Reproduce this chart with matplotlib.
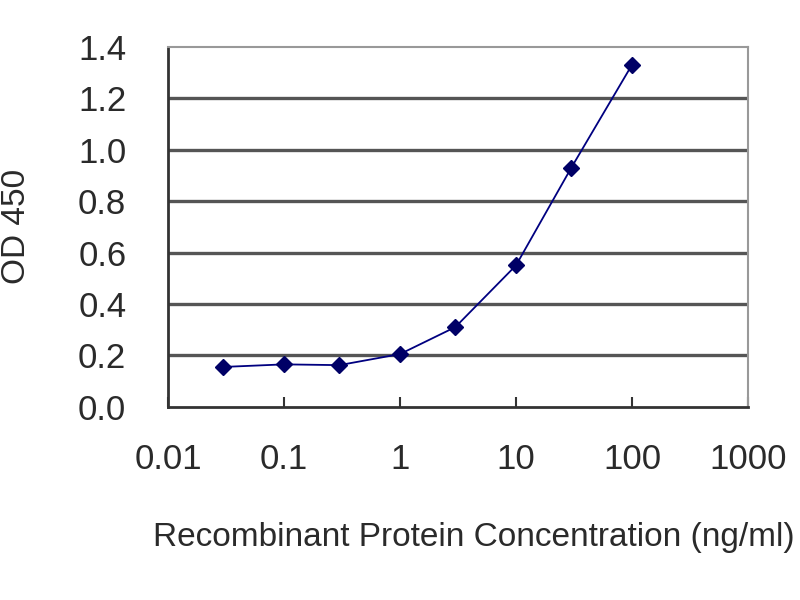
import matplotlib
matplotlib.use("Agg")
import matplotlib.pyplot as plt

# === data ===
conc = [0.03, 0.1, 0.3, 1, 3, 10, 30, 100]
od450 = [0.155, 0.165, 0.162, 0.205, 0.31, 0.55, 0.93, 1.33]
x_ticks = [0.01, 0.1, 1, 10, 100, 1000]
x_tick_labels = ["0.01", "0.1", "1", "10", "100", "1000"]
y_ticks = [0.0, 0.2, 0.4, 0.6, 0.8, 1.0, 1.2, 1.4]

plt.rcParams["font.family"] = ["Liberation Sans", "DejaVu Sans"]
TXT = "#2a2a2a"

fig = plt.figure(figsize=(8, 6), dpi=100)
ax = fig.add_axes([0.21, 0.322, 0.725, 0.600])

# horizontal grid bands, drawn as plain lines like the original
for y in y_ticks[1:-1]:
    ax.axhline(y, color="#555555", lw=2.4, zorder=1)

ax.plot(conc, od450, color="#000080", lw=1.3, marker="D", markersize=8,
        markerfacecolor="#000066", markeredgecolor="#000066", zorder=3)

ax.set_xscale("log")
ax.set_xlim(0.01, 1000)
ax.set_ylim(0, 1.4)
ax.set_xticks(x_ticks)
ax.set_xticklabels(x_tick_labels)
ax.minorticks_off()
ax.set_yticks(y_ticks)
ax.set_yticklabels([f"{v:.1f}" for v in y_ticks])

ax.tick_params(axis="x", direction="in", length=7, width=1.5, color="#333333",
               labelsize=25, pad=26, labelcolor=TXT)
ax.tick_params(axis="y", length=0, labelsize=25, pad=30, labelcolor=TXT)

for side in ["left", "bottom"]:
    ax.spines[side].set_color("#333333")
    ax.spines[side].set_linewidth(2)
for side in ["top", "right"]:
    ax.spines[side].set_color("#999999")
    ax.spines[side].set_linewidth(1.5)

ax.set_ylabel("OD 450", fontsize=24, color=TXT)
ax.yaxis.set_label_coords(-0.234, 0.5)
ax.set_xlabel("Recombinant Protein Concentration (ng/ml)", fontsize=24,
              color=TXT)
ax.xaxis.set_label_coords(0.528, -0.319)

fig.savefig("out.png", dpi=100)
